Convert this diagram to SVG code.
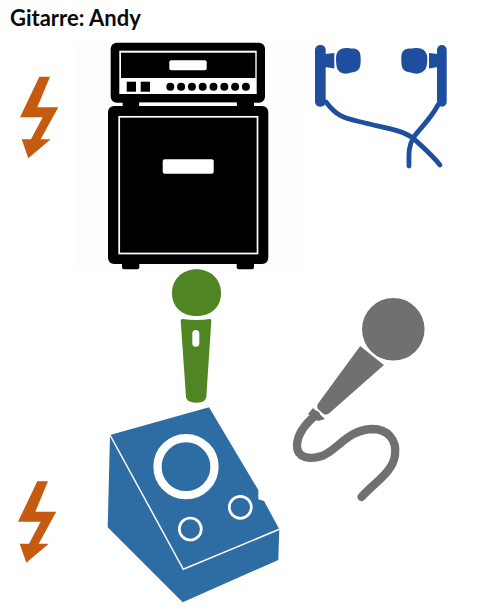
<svg xmlns="http://www.w3.org/2000/svg" width="501" height="610" viewBox="0 0 501 610">
<style>
.t{font-family:"Lato","Open Sans","Liberation Sans",sans-serif;font-weight:700;font-size:22px;fill:#0a0a0a}
.k{fill:#000}.w{fill:#fff}
.bolt{fill:#c55a11}
.hp{fill:#1f4e9f}.hc{fill:none;stroke:#1f4e9f;stroke-width:4.800;stroke-linecap:round}
.gr{fill:#707070}
.bl{fill:#2e6ca4}
.gn{fill:#4f8522}
</style>
<defs>
<polygon id="bolt" points="39.300,76.700 50,76.700 37.300,107.300 58.300,107.300 40.700,139.300 50.700,139.300 28.300,158.300 21.700,139.300 31,139.300 42.700,117.300 20,117.300"/>
</defs>
<rect width="501" height="610" fill="#fff"/>
<g id="title"><text class="t" x="10" y="26">Gitarre: Andy</text></g>
<g id="bolt-top"><use href="#bolt" class="bolt"/></g>
<g id="amp">
<rect x="76" y="42" width="226" height="228" fill="#fdfdfd"/>
<rect class="k" x="110.700" y="42.700" width="154.300" height="60" rx="6"/>
<rect class="k" x="122.700" y="100" width="16.600" height="8"/>
<rect class="k" x="236.700" y="100" width="17.300" height="8"/>
<rect class="w" x="139.300" y="102.500" width="97.400" height="3.500"/>
<rect class="w" x="119.300" y="50.700" width="137.400" height="43.300"/>
<rect class="k" x="121" y="52.700" width="134.300" height="25.300"/>
<rect class="w" x="169.300" y="60.300" width="37.400" height="10" rx="2"/>
<rect class="k" x="126.700" y="81.700" width="9.300" height="10"/>
<rect class="k" x="140.700" y="81.700" width="9.300" height="10"/>
<g class="k">
<circle cx="170.300" cy="86.700" r="4"/><circle cx="181.100" cy="86.700" r="4"/><circle cx="191.900" cy="86.700" r="4"/><circle cx="202.700" cy="86.700" r="4"/><circle cx="213.500" cy="86.700" r="4"/><circle cx="224.300" cy="86.700" r="4"/><circle cx="235.100" cy="86.700" r="4"/><circle cx="245.900" cy="86.700" r="4"/>
</g>
<rect class="k" x="122" y="255" width="17.300" height="14.300" rx="2"/>
<rect class="k" x="236.700" y="255" width="17.300" height="14.300" rx="2"/>
<rect class="k" x="108" y="106" width="160.300" height="158" rx="6"/>
<rect x="119.200" y="116.800" width="138.300" height="136.700" fill="none" stroke="#fff" stroke-width="1.700"/>
<rect class="w" x="162.700" y="159.300" width="51" height="14.400" rx="2"/>
</g>
<g id="headphones">
<rect class="hp" x="315" y="45" width="10.700" height="61.700" rx="5"/>
<path class="hp" d="M325,54 L334.300,53 V68.500 L325,67Z"/>
<path class="hp" d="M336,58 C336,50 342,47.300 348,48 C352,49 355,48 357,49.500 C360,51 360.700,54 360.700,60 C360.700,68 359,71 354,72 C349,73 346,74.500 342,73 C337,71 336,67 336,58Z"/>
<rect class="hp" x="437" y="45" width="9.700" height="61.700" rx="4.800"/>
<path class="hp" d="M438,54 L429,53 V68.500 L438,67Z"/>
<path class="hp" d="M427.300,58 C427.300,50 421,47.300 415,48 C411,49 408,48 405,49.500 C402,51 401.300,54 401.300,60 C401.300,68 403,71 408,72 C413,73 416,74.500 420,73 C426,71 427.300,67 427.300,58Z"/>
<path class="hc" d="M326,102 C338,118 345,118 365,123 C385,128 403,130 414,139 C425,149 432,155 440,165"/>
<path class="hc" d="M438,105 C430,120 420,128 413,138 C408,148 409,155 409,166"/>
</g>
<g id="mic-green">
<path class="gn" d="M172,293 C172,279 183,269.300 196.500,269.300 C210,269.300 221,279 221,293 C221,309 209,316 196.500,316 C184,316 172,309 172,293Z"/>
<path class="gn" d="M182.500,319 Q196.500,321 210,319 Q211.500,319 211.300,321 L206.300,397 Q206,402.700 196.500,402.700 Q186.500,402.700 186,397 L180.700,321 Q180.700,319 182.500,319Z"/>
<rect class="w" x="192.300" y="330" width="7" height="16.700" rx="3.500"/>
</g>
<g id="mic-grey">
<path d="M316,415 C305,424 297,435 297,446 C297,458 310,460 322,456 C338,450 347,430 372,429 C388,429 397,440 395,455 C393,472 375,482 361.500,497" fill="none" stroke="#707070" stroke-width="8.300" stroke-linecap="round"/>
<path class="gr" d="M313,408 L325,419 L318,421 L308,414Z"/>
<path class="gr" d="M360,345 L385,365 L330,413.500 Q326,417 322.500,414 L318,410 Q315,407 317.500,403Z" stroke="#fff" stroke-width="1.500"/>
<circle class="gr" cx="393.300" cy="329.300" r="32" stroke="#fff" stroke-width="1.500"/>
</g>
<g id="bolt-bottom"><use href="#bolt" class="bolt" x="-2" y="404.500"/></g>
<g id="interface">
<polygon class="bl" points="110,435 209,407.300 258.300,490 258.300,499.300 264,501 279.300,529.300 278.300,560 182.700,602.300 107.700,527.300"/>
<polyline points="110,435 183.300,569.300 279.300,529.300" fill="none" stroke="#fff" stroke-width="1.500"/>
<circle cx="186" cy="466.700" r="28.500" fill="none" stroke="#fff" stroke-width="8.300"/>
<circle cx="240.300" cy="507.300" r="11" fill="none" stroke="#fff" stroke-width="2.700"/>
<circle cx="190.300" cy="529" r="11" fill="none" stroke="#fff" stroke-width="2.700"/>
</g>
<g id="connectors"></g>
</svg>
